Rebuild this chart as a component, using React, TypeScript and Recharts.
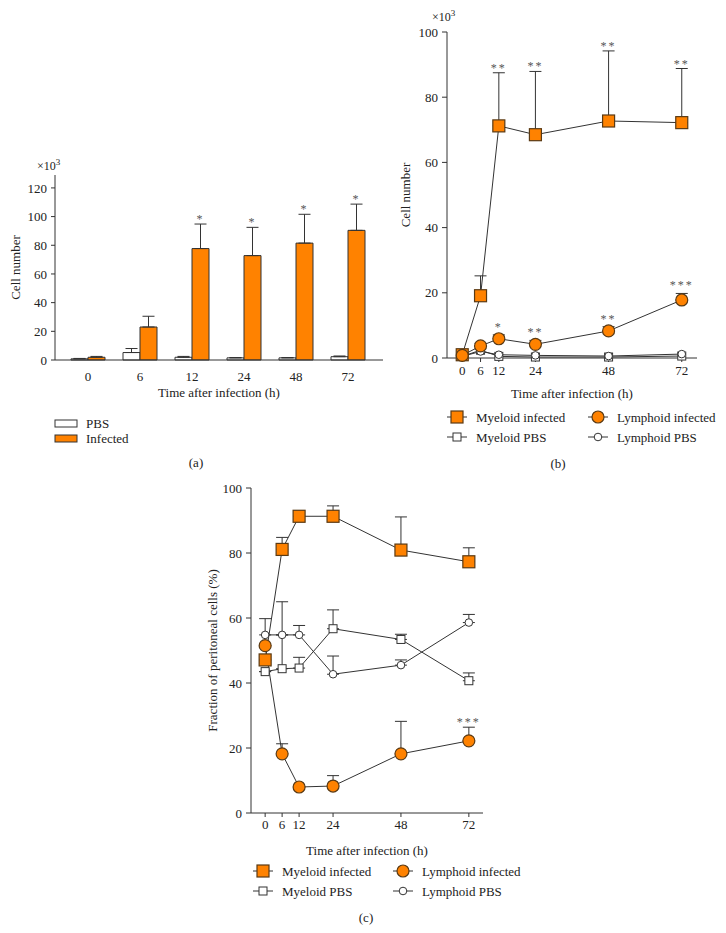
import React from 'react';
import { BarChart, Bar, LineChart, Line, XAxis, YAxis, ErrorBar, LabelList } from 'recharts';

const ORANGE = '#FF8200';
const EDGE = '#5a3a14';
const INK = '#333333';
const TEXT = '#222222';
const FONT = '"Liberation Serif", "DejaVu Serif", serif';

// (a) total cells, x10^3
const barTimes = ['0', '6', '12', '24', '48', '72'];
const pbsCells = [0.8, 5.2, 1.9, 1.5, 1.5, 2.3];
const pbsSd = [0.3, 2.8, 0.6, 0.2, 0.2, 0.5];
const infCells = [1.9, 23, 77.7, 72.8, 81.5, 90.4];
const infSd = [0.6, 7.5, 17.1, 19.7, 20.1, 18.3];
const infSig = ['', '', '*', '*', '*', '*'];

// (b) and (c) share the time points
const hours = [0, 6, 12, 24, 48, 72];

// (b) cell number, x10^3
const bMyeInf = [1.0, 19.1, 71.2, 68.5, 72.7, 72.2];
const bMyeInfSd = [0.3, 6.1, 16.3, 19.4, 21.5, 16.6];
const bMyeInfSig = ['', '', '**', '**', '**', '**'];
const bLymInf = [0.8, 3.7, 5.9, 4.2, 8.3, 17.8];
const bLymInfSd = [0.2, 0.8, 1.2, 1.2, 1.3, 2.0];
const bLymInfSig = ['', '', '*', '**', '**', '***'];
const bMyePbs = [0.5, 2.4, 0.5, 0.3, 0.3, 0.6];
const bLymPbs = [0.5, 2.0, 1.0, 0.8, 0.6, 1.2];

// (c) fraction of peritoneal cells, %
const cMyeInf = [47.1, 81.1, 91.3, 91.3, 80.9, 77.3];
const cMyeInfSd = [0, 3.7, 0, 3.2, 10.2, 4.3];
const cLymInf = [51.5, 18.2, 8.0, 8.3, 18.2, 22.2];
const cLymInfSd = [0, 3.1, 0, 3.2, 10.0, 4.2];
const cLymInfSig = ['', '', '', '', '', '***'];
const cMyePbs = [43.5, 44.4, 44.6, 56.7, 53.4, 40.7];
const cMyePbsSd = [0, 20.6, 3.3, 5.8, 1.6, 2.4];
const cLymPbs = [54.8, 54.8, 54.8, 42.7, 45.5, 58.6];
const cLymPbsSd = [5.0, 0, 2.9, 5.6, 1.6, 2.5];

const barNames = ['PBS', 'Infected'];
const lineNames = ['Myeloid infected', 'Lymphoid infected', 'Myeloid PBS', 'Lymphoid PBS'];

const barData = barTimes.map((t, i) => ({
  time: t,
  pbs: pbsCells[i],
  pbsErr: [0, pbsSd[i]],
  inf: infCells[i],
  infErr: [0, infSd[i]],
}));

const bData = hours.map((h, i) => ({
  h,
  mi: bMyeInf[i],
  miErr: [0, bMyeInfSd[i]],
  miTop: bMyeInf[i] + bMyeInfSd[i],
  miSig: bMyeInfSig[i],
  li: bLymInf[i],
  liErr: [0, bLymInfSd[i]],
  liTop: bLymInf[i] + bLymInfSd[i],
  liSig: bLymInfSig[i],
  mp: bMyePbs[i],
  lp: bLymPbs[i],
}));

const cData = hours.map((h, i) => ({
  h,
  mi: cMyeInf[i],
  miErr: [0, cMyeInfSd[i]],
  li: cLymInf[i],
  liErr: [0, cLymInfSd[i]],
  liTop: cLymInf[i] + cLymInfSd[i],
  liSig: cLymInfSig[i],
  mp: cMyePbs[i],
  mpErr: [0, cMyePbsSd[i]],
  lp: cLymPbs[i],
  lpErr: [0, cLymPbsSd[i]],
}));

const tickStyle = { fontSize: 13, fill: TEXT, fontFamily: FONT };
const labelStyle = { fontSize: 13, fill: TEXT, fontFamily: FONT };
const sigStyle = { fontSize: 12, fill: '#555', fontFamily: FONT, letterSpacing: 2 };

// markers
const bigSquare = (p: any) => {
  if (p.cx == null) return <g key={`bs-${p.index}`} />;
  return <rect key={`bs-${p.index}`} x={p.cx - 6} y={p.cy - 6} width={12} height={12} fill={ORANGE} stroke={EDGE} strokeWidth={1.2} />;
};
const bigCircle = (p: any) => {
  if (p.cx == null) return <g key={`bc-${p.index}`} />;
  return <circle key={`bc-${p.index}`} cx={p.cx} cy={p.cy} r={6} fill={ORANGE} stroke={EDGE} strokeWidth={1.2} />;
};
const smallSquare = (p: any) => {
  if (p.cx == null) return <g key={`ss-${p.index}`} />;
  return <rect key={`ss-${p.index}`} x={p.cx - 4} y={p.cy - 4} width={8} height={8} fill="#fff" stroke={INK} strokeWidth={1} />;
};
const smallCircle = (p: any) => {
  if (p.cx == null) return <g key={`sc-${p.index}`} />;
  return <circle key={`sc-${p.index}`} cx={p.cx} cy={p.cy} r={3.8} fill="#fff" stroke={INK} strokeWidth={1} />;
};

// asterisk above the infected bar error whisker
const BarSig = (props: any) => {
  const vb = props.viewBox || props;
  const { x, y, width, height } = vb;
  const i = props.index;
  if (i == null || !infSig[i]) return null;
  const top = y - (infSd[i] * height) / infCells[i];
  return (
    <text x={x + width / 2} y={top - 1} textAnchor="middle" fill="#555" style={sigStyle}>
      {infSig[i]}
    </text>
  );
};

const LegendIcon = ({ x, y, kind }: { x: number; y: number; kind: number }) => (
  <g>
    <line x1={x - 10} x2={x + 10} y1={y} y2={y} stroke={INK} strokeWidth={1} />
    {kind === 0 && <rect x={x - 6} y={y - 6} width={12} height={12} fill={ORANGE} stroke={EDGE} strokeWidth={1.2} />}
    {kind === 1 && <circle cx={x} cy={y} r={6} fill={ORANGE} stroke={EDGE} strokeWidth={1.2} />}
    {kind === 2 && <rect x={x - 4} y={y - 4} width={8} height={8} fill="#fff" stroke={INK} />}
    {kind === 3 && <circle cx={x} cy={y} r={3.8} fill="#fff" stroke={INK} />}
  </g>
);

const LineLegend = ({ x1, x2, y }: { x1: number; x2: number; y: number }) => (
  <g>
    {lineNames.map((n, i) => {
      const cx = i % 2 === 0 ? x1 : x2;
      const cy = y + Math.floor(i / 2) * 20;
      return (
        <g key={n}>
          <LegendIcon x={cx} y={cy} kind={i} />
          <text x={cx + 19} y={cy + 4.5} style={labelStyle}>{n}</text>
        </g>
      );
    })}
  </g>
);

export default function App() {
  return (
    <div style={{ position: 'absolute', left: 0, top: 0, width: 726, height: 933, background: '#fff', fontFamily: FONT }}>
      {/* (a) */}
      <div style={{ position: 'absolute', left: 0, top: 150 }}>
        <BarChart width={400} height={260} data={barData} margin={{ top: 25, right: 17, left: 10, bottom: 13 }} barGap={0} barSize={17}>
          <XAxis
            dataKey="time"
            tickLine={false}
            axisLine={{ stroke: INK }}
            tick={tickStyle}
            tickMargin={6}
            height={37}
            padding={{ left: 7, right: 9 }}
            label={{ value: 'Time after infection (h)', position: 'insideBottom', offset: 0, style: labelStyle }}
          />
          <YAxis
            width={45}
            domain={[0, 129]}
            ticks={[0, 20, 40, 60, 80, 100, 120]}
            tick={tickStyle}
            tickSize={4}
            tickMargin={4}
            axisLine={{ stroke: INK }}
            tickLine={{ stroke: INK }}
            label={{ value: 'Cell number', angle: -90, position: 'insideLeft', offset: 5, style: { ...labelStyle, textAnchor: 'middle' } }}
          />
          <Bar dataKey="pbs" fill="#fff" stroke={INK} strokeWidth={1} isAnimationActive={false}>
            <ErrorBar dataKey="pbsErr" width={6} stroke={INK} strokeWidth={1} direction="y" />
          </Bar>
          <Bar dataKey="inf" fill={ORANGE} stroke={INK} strokeWidth={1} isAnimationActive={false}>
            <ErrorBar dataKey="infErr" width={6} stroke={INK} strokeWidth={1} direction="y" />
            <LabelList dataKey="inf" content={BarSig} />
          </Bar>
        </BarChart>
      </div>

      {/* (b) */}
      <div style={{ position: 'absolute', left: 385, top: 0 }}>
        <LineChart width={341} height={410} data={bData} margin={{ top: 32, right: 29, left: 12, bottom: 12 }}>
          <XAxis
            dataKey="h"
            type="number"
            domain={[-5, 77]}
            ticks={hours}
            tick={tickStyle}
            tickSize={4}
            tickMargin={4}
            axisLine={{ stroke: INK }}
            tickLine={{ stroke: INK }}
            height={40}
            label={{ value: 'Time after infection (h)', position: 'insideBottom', offset: 0, style: labelStyle }}
          />
          <YAxis
            width={50}
            domain={[0, 100]}
            ticks={[0, 20, 40, 60, 80, 100]}
            tick={tickStyle}
            tickSize={5}
            tickMargin={4}
            axisLine={{ stroke: INK }}
            tickLine={{ stroke: INK }}
            label={{ value: 'Cell number', angle: -90, position: 'insideLeft', offset: 8, style: { ...labelStyle, textAnchor: 'middle' } }}
          />
          <Line dataKey="mp" type="linear" stroke={INK} strokeWidth={1} dot={smallSquare} activeDot={false} isAnimationActive={false} />
          <Line dataKey="lp" type="linear" stroke={INK} strokeWidth={1} dot={smallCircle} activeDot={false} isAnimationActive={false} />
          <Line dataKey="mi" type="linear" stroke={INK} strokeWidth={1} dot={bigSquare} activeDot={false} isAnimationActive={false}>
            <ErrorBar dataKey="miErr" width={6} stroke={INK} strokeWidth={1} direction="y" />
          </Line>
          <Line dataKey="li" type="linear" stroke={INK} strokeWidth={1} dot={bigCircle} activeDot={false} isAnimationActive={false}>
            <ErrorBar dataKey="liErr" width={6} stroke={INK} strokeWidth={1} direction="y" />
          </Line>
          <Line dataKey="miTop" stroke="none" dot={false} activeDot={false} isAnimationActive={false} legendType="none">
            <LabelList dataKey="miSig" position="top" offset={1} fill="#555" stroke="none" style={sigStyle} />
          </Line>
          <Line dataKey="liTop" stroke="none" dot={false} activeDot={false} isAnimationActive={false} legendType="none">
            <LabelList dataKey="liSig" position="top" offset={4} fill="#555" stroke="none" style={sigStyle} />
          </Line>
        </LineChart>
      </div>

      {/* (c) */}
      <div style={{ position: 'absolute', left: 170, top: 470 }}>
        <LineChart width={330} height={390} data={cData} margin={{ top: 18, right: 17, left: 32, bottom: 5 }}>
          <XAxis
            dataKey="h"
            type="number"
            domain={[-5, 77]}
            ticks={hours}
            tick={tickStyle}
            tickSize={4}
            tickMargin={3}
            axisLine={{ stroke: INK }}
            tickLine={{ stroke: INK }}
            height={42}
            label={{ value: 'Time after infection (h)', position: 'insideBottom', offset: 0, style: labelStyle }}
          />
          <YAxis
            width={49}
            domain={[0, 100]}
            ticks={[0, 20, 40, 60, 80, 100]}
            tick={tickStyle}
            tickSize={5}
            tickMargin={4}
            axisLine={{ stroke: INK }}
            tickLine={{ stroke: INK }}
            label={{ value: 'Fraction of peritoneal cells (%)', angle: -90, position: 'insideLeft', offset: 10, style: { ...labelStyle, textAnchor: 'middle' } }}
          />
          <Line dataKey="mp" type="linear" stroke={INK} strokeWidth={1} dot={smallSquare} activeDot={false} isAnimationActive={false}>
            <ErrorBar dataKey="mpErr" width={6} stroke={INK} strokeWidth={1} direction="y" />
          </Line>
          <Line dataKey="lp" type="linear" stroke={INK} strokeWidth={1} dot={smallCircle} activeDot={false} isAnimationActive={false}>
            <ErrorBar dataKey="lpErr" width={6} stroke={INK} strokeWidth={1} direction="y" />
          </Line>
          <Line dataKey="mi" type="linear" stroke={INK} strokeWidth={1} dot={bigSquare} activeDot={false} isAnimationActive={false}>
            <ErrorBar dataKey="miErr" width={6} stroke={INK} strokeWidth={1} direction="y" />
          </Line>
          <Line dataKey="li" type="linear" stroke={INK} strokeWidth={1} dot={bigCircle} activeDot={false} isAnimationActive={false}>
            <ErrorBar dataKey="liErr" width={6} stroke={INK} strokeWidth={1} direction="y" />
          </Line>
          <Line dataKey="liTop" stroke="none" dot={false} activeDot={false} isAnimationActive={false} legendType="none">
            <LabelList dataKey="liSig" position="top" offset={1} fill="#555" stroke="none" style={sigStyle} />
          </Line>
        </LineChart>
      </div>

      {/* legends, unit notes and panel letters */}
      <svg width={726} height={933} style={{ position: 'absolute', left: 0, top: 0, pointerEvents: 'none' }}>
        <text x={37} y={170} style={{ ...labelStyle, fontSize: 12 }}>
          ×10<tspan dy={-5} fontSize={9}>3</tspan>
        </text>
        <text x={432} y={21} style={{ ...labelStyle, fontSize: 12 }}>
          ×10<tspan dy={-5} fontSize={9}>3</tspan>
        </text>

        {barNames.map((n, i) => (
          <g key={n}>
            <rect x={55} y={420 + i * 15} width={22} height={7} fill={i === 0 ? '#fff' : ORANGE} stroke={INK} strokeWidth={1} />
            <text x={86} y={428 + i * 15} style={labelStyle}>{n}</text>
          </g>
        ))}
        <text x={196} y={467} textAnchor="middle" style={labelStyle}>(a)</text>

        <LineLegend x1={457} x2={598} y={417} />
        <text x={558} y={468} textAnchor="middle" style={labelStyle}>(b)</text>

        <LineLegend x1={263} x2={403} y={871} />
        <text x={366} y={922} textAnchor="middle" style={labelStyle}>(c)</text>
      </svg>
    </div>
  );
}
